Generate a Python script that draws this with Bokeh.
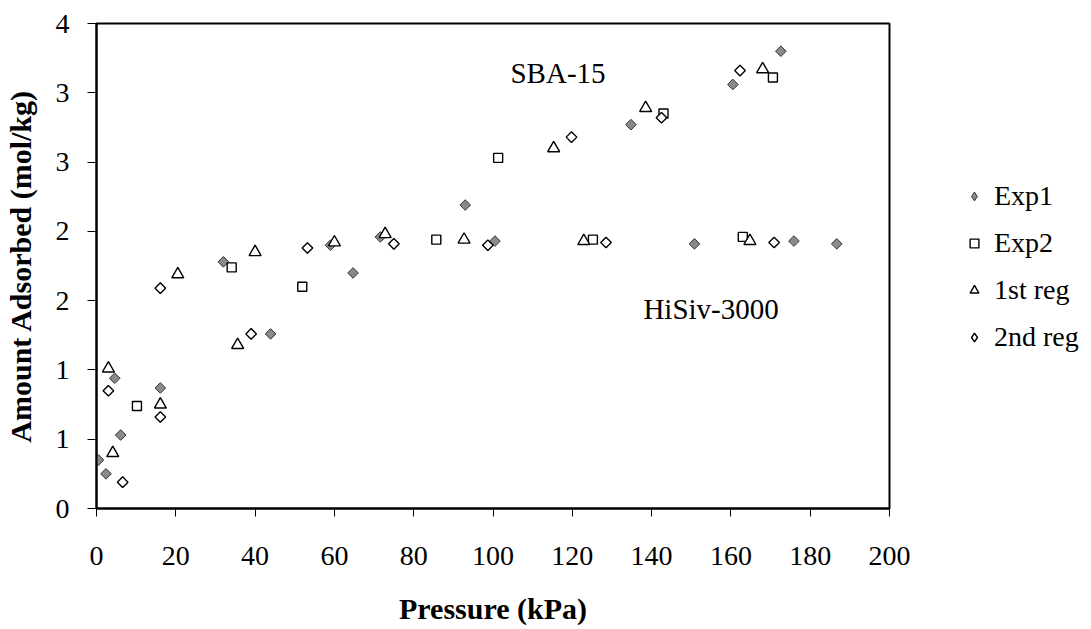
import math
from bokeh.plotting import figure
from bokeh.models import Legend, LegendItem, Label, FixedTicker
from bokeh.embed import file_html
from bokeh.resources import INLINE

# ---- data ----
exp1_p = [0.5, 2.4, 4.6, 6.1, 16.1, 32.0, 43.9, 59.0, 64.7, 71.6, 93.0, 100.5,
          134.8, 150.8, 160.5, 172.6, 175.9, 186.7]
exp1_q = [0.35, 0.25, 0.94, 0.53, 0.87, 1.78, 1.26, 1.90, 1.70, 1.96, 2.19, 1.93,
          2.77, 1.91, 3.06, 3.30, 1.93, 1.91]

exp2_p = [10.2, 34.1, 51.9, 85.7, 101.3, 125.2, 143.0, 163.0, 170.6]
exp2_q = [0.74, 1.74, 1.60, 1.94, 2.53, 1.94, 2.85, 1.96, 3.11]

reg1_p = [3.0, 4.1, 16.1, 20.5, 35.6, 40.0, 60.0, 72.8, 92.7, 115.3, 122.9,
          138.5, 164.8, 168.0]
reg1_q = [1.01, 0.40, 0.75, 1.69, 1.18, 1.85, 1.92, 1.98, 1.94, 2.60, 1.93,
          2.89, 1.93, 3.17]

reg2_p = [3.0, 6.6, 16.1, 16.1, 39.0, 53.2, 75.0, 98.7, 119.8, 128.5, 142.5,
          162.3, 170.9]
reg2_q = [0.85, 0.19, 0.66, 1.59, 1.26, 1.88, 1.91, 1.90, 2.68, 1.92, 2.82,
          3.16, 1.92]

series_names = ["Exp1", "Exp2", "1st reg", "2nd reg"]
x_ticks = [0, 20, 40, 60, 80, 100, 120, 140, 160, 180, 200]
y_ticks = [0, 0.5, 1.0, 1.5, 2.0, 2.5, 3.0, 3.5]
y_tick_labels = ["0", "1", "1", "2", "2", "3", "3", "4"]

FONT = "Liberation Serif, Times New Roman, serif"
NAN = float("nan")

p = figure(frame_width=793, frame_height=485, output_backend="svg",
           toolbar_location=None,
           x_range=(0, 200), y_range=(0, 3.5),
           min_border_left=95, min_border_right=203,
           min_border_top=23, min_border_bottom=121)

p.background_fill_color = "white"
p.border_fill_color = "white"
p.xgrid.visible = False
p.ygrid.visible = False
p.outline_line_color = "black"
p.outline_line_width = 2

for ax in (p.xaxis[0], p.yaxis[0]):
    ax.axis_line_color = "black"
    ax.axis_line_width = 2
    ax.major_tick_line_color = "black"
    ax.major_tick_line_width = 1
    ax.major_tick_in = 0
    ax.minor_tick_line_color = None
    ax.major_label_text_font = FONT
    ax.major_label_text_font_size = "28px"
    ax.major_label_text_color = "black"
    ax.axis_label_text_font = FONT
    ax.axis_label_text_font_size = "30px"
    ax.axis_label_text_font_style = "bold"
    ax.axis_label_text_color = "black"

p.xaxis.ticker = FixedTicker(ticks=x_ticks)
p.xaxis.major_tick_out = 8
p.xaxis.major_label_standoff = 30
p.xaxis.axis_label = "Pressure (kPa)"
p.xaxis.axis_label_standoff = 24

p.yaxis.ticker = FixedTicker(ticks=y_ticks)
p.yaxis.major_label_overrides = {t: s for t, s in zip(y_ticks, y_tick_labels)}
p.yaxis.major_tick_out = 9
p.yaxis.major_label_standoff = 18
p.yaxis.axis_label = "Amount Adsorbed (mol/kg)"
p.yaxis.axis_label_standoff = 16

ang = math.pi / 4
s1 = dict(fill_color="#8a8a8a", line_color="#333333", line_width=1)
s2 = dict(fill_color="white", line_color="black", line_width=1.4)

p.scatter(exp1_p, exp1_q, marker="square", angle=ang, size=7.5, **s1)
p.scatter(exp2_p, exp2_q, marker="square", size=9, **s2)
p.scatter(reg1_p, reg1_q, marker="triangle", size=12, **s2)
p.scatter(reg2_p, reg2_q, marker="square", angle=ang, size=7.5, **s2)

# legend proxies (not drawn in the plot) so the legend shows upright diamonds
l1 = p.scatter([NAN], [NAN], marker="diamond", **s1)
l2 = p.scatter([NAN], [NAN], marker="square", **s2)
l3 = p.scatter([NAN], [NAN], marker="triangle", **s2)
l4 = p.scatter([NAN], [NAN], marker="diamond", **s2)

p.add_layout(Label(x=116.4, y=3.14, text="SBA-15", text_font=FONT,
                   text_font_size="29px", text_align="center",
                   text_baseline="middle", text_color="black"))
p.add_layout(Label(x=155, y=1.44, text="HiSiv-3000", text_font=FONT,
                   text_font_size="29px", text_align="center",
                   text_baseline="middle", text_color="black"))

legend = Legend(items=[LegendItem(label=n, renderers=[r])
                       for n, r in zip(series_names, [l1, l2, l3, l4])],
                location=(74, 155), orientation="vertical",
                label_text_font=FONT, label_text_font_size="28px",
                label_text_color="black",
                label_height=32, glyph_height=22, glyph_width=22,
                label_standoff=9, spacing=15, padding=0, margin=0,
                border_line_color=None, background_fill_alpha=0)
p.add_layout(legend, "right")

open("out.html", "w").write(file_html(p, INLINE))
